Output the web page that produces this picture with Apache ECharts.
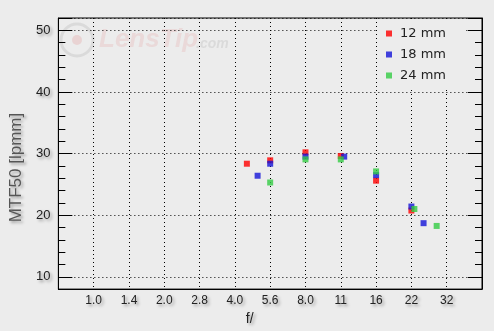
<!DOCTYPE html>
<html>
<head>
<meta charset="utf-8">
<script src="https://cdn.jsdelivr.net/npm/echarts@6/dist/echarts.min.js"></script>
<style>
html,body{margin:0;padding:0;background:#ececec;}
#c{width:494px;height:331px;}
</style>
</head>
<body>
<div id="c"></div>
<script>
// Tick labels of the aperture axis (full stops)
const stopLabels = ['1.0', '1.4', '2.0', '2.8', '4.0', '5.6', '8.0', '11', '16', '22', '32'];
const nominalStops = [1, 1.4, 2, 2.8, 4, 5.6, 8, 11, 16, 22, 32];

// Series: aperture (f-number) and MTF50 [lpmm]
const f12 = [4.5, 5.6, 8, 11, 16, 22];
const mtf12 = [28.35, 28.9, 30.2, 29.6, 25.6, 20.75];
const f18 = [5.0, 5.6, 8, 11.7, 16, 22, 25.5];
const mtf18 = [26.4, 28.35, 29.5, 29.5, 26.5, 21.4, 18.7];
const f24 = [5.6, 8, 11, 16, 23.3, 29];
const mtf24 = [25.3, 29.05, 29.05, 27.1, 21.0, 18.25];

const seriesNames = ['12 mm', '18 mm', '24 mm'];
const seriesColors = ['#ff0000', '#1414d8', '#33cc44'];

// position of an f-number on the stop axis
function stopOf(f) {
  const i = nominalStops.indexOf(f);
  return i >= 0 ? i : 2 * Math.log2(f);
}
function pairs(fs, vs) { return fs.map((f, i) => [stopOf(f), vs[i]]); }

const shadow = {
  textShadowColor: 'rgba(0,0,0,0.35)',
  textShadowBlur: 3,
  textShadowOffsetX: 2,
  textShadowOffsetY: 2
};

const chart = echarts.init(document.getElementById('c'), null, {renderer: 'canvas'});
const dotted = {color: '#000', width: 1, type: [1, 3]};

function yAxisDef(pos, labels) {
  return {
    type: 'value', position: pos, min: 8, max: 52,
    name: labels ? 'MTF50 [lpmm]' : '',
    nameLocation: 'middle', nameGap: 30, nameRotate: 90,
    nameTextStyle: Object.assign({color: '#555', fontSize: 17, fontFamily: 'Liberation Sans', padding: [0, 28, 0, 0]}, shadow),
    axisLine: {show: true, onZero: false, lineStyle: {color: '#000', width: 1}},
    axisTick: {show: true, inside: true, length: 14, lineStyle: {color: '#000', width: 1}},
    minorTick: {show: true, splitNumber: 5, length: 7, lineStyle: {color: '#000', width: 1}},
    axisLabel: Object.assign({show: labels, color: '#222', fontSize: 13, fontFamily: 'Liberation Sans', margin: 8,
      showMinLabel: false, showMaxLabel: false}, shadow),
    splitLine: {show: labels, lineStyle: dotted},
    minorSplitLine: {show: false}
  };
}

const option = {
  backgroundColor: '#ececec',
  animation: false,
  grid: {left: 55, right: 12, top: 18, bottom: 37, show: true, borderColor: '#000', borderWidth: 1, backgroundColor: 'transparent'},
  graphic: [
    {type: 'circle', z: 0, shape: {cx: 77, cy: 40, r: 16}, style: {fill: 'none', stroke: 'rgba(150,150,150,0.2)', lineWidth: 3}},
    {type: 'circle', z: 0, shape: {cx: 77, cy: 40, r: 5}, style: {fill: 'rgba(220,100,100,0.18)'}},
    {type: 'text', z: 0, left: 99, top: 27, style: {text: 'LensTip', fill: 'rgba(225,120,120,0.16)', font: 'italic bold 26px "Liberation Sans"'}},
    {type: 'text', z: 0, left: 196, top: 37, style: {text: '.com', fill: 'rgba(150,150,150,0.2)', font: 'italic bold 14px "Liberation Sans"'}}
  ],
  legend: {
    data: seriesNames,
    orient: 'vertical', left: 378, top: 19,
    padding: [8, 20, 8, 8], itemGap: 8,
    backgroundColor: '#ececec',
    icon: 'rect', itemWidth: 6, itemHeight: 6,
    textStyle: {color: '#222', fontSize: 13, fontFamily: 'DejaVu Sans', padding: [0, 0, 0, 3]}
  },
  xAxis: {
    type: 'value', min: -1, max: 11, interval: 1,
    name: 'f/', nameLocation: 'middle', nameGap: 20,
    nameTextStyle: Object.assign({color: '#222', fontSize: 14, fontFamily: 'Liberation Sans', padding: [0, 41, 0, 0]}, shadow),
    axisLine: {show: true, onZero: false, lineStyle: {color: '#000'}},
    axisTick: {show: false},
    axisLabel: Object.assign({color: '#222', fontSize: 12, fontFamily: 'Liberation Sans', margin: 6,
      formatter: v => (v >= 0 && v < stopLabels.length) ? stopLabels[v] : ''}, shadow),
    splitLine: {show: true, lineStyle: dotted}
  },
  yAxis: [yAxisDef('left', true), yAxisDef('right', false)],
  series: [
    {name: seriesNames[0], type: 'scatter', z: 2, symbol: 'rect', symbolSize: 6, itemStyle: {color: seriesColors[0]}, data: pairs(f12, mtf12)},
    {name: seriesNames[1], type: 'scatter', z: 3, symbol: 'rect', symbolSize: 6, itemStyle: {color: seriesColors[1]}, data: pairs(f18, mtf18)},
    {name: seriesNames[2], type: 'scatter', z: 4, symbol: 'rect', symbolSize: 6, itemStyle: {color: seriesColors[2]}, data: pairs(f24, mtf24)}
  ]
};
chart.setOption(option);
</script>
</body>
</html>
